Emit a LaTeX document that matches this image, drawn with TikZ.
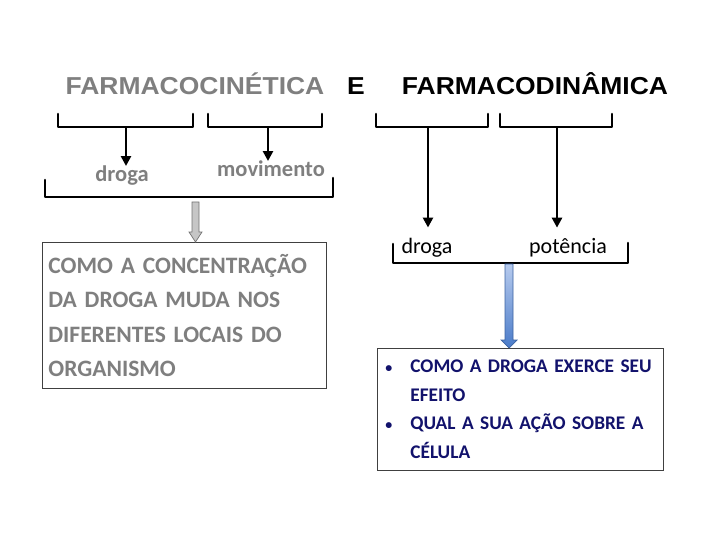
\documentclass[tikz,border=0pt]{standalone}
\usepackage{fontspec}
\setmainfont{Carlito}
\newfontfamily\headfont{Liberation Sans}
\usetikzlibrary{arrows.meta,positioning,calc}
\definecolor{tgray}{HTML}{7F7F7F}
\definecolor{tnavy}{HTML}{12126C}
\definecolor{agray}{HTML}{C6C6C6}
\definecolor{bluelt}{HTML}{B7CBEE}
\definecolor{bluedk}{HTML}{4A7BC9}
\newcommand{\wide}[1]{\scalebox{1.08}[1]{#1}}
\newcommand{\dotb}{{\fontsize{14}{14}\selectfont\textbullet}}

\begin{document}
\begin{tikzpicture}[
  x=1pt,y=-1pt,
  ttl/.style={font=\headfont\bfseries\fontsize{24.5}{28}\selectfont,inner sep=0pt,anchor=base},
  lbl/.style={font=\bfseries\fontsize{22.5}{26}\selectfont,inner sep=0pt,anchor=base,text=tgray},
  lblk/.style={font=\fontsize{22}{26}\selectfont,inner sep=0pt,anchor=base},
  brk/.style={line width=2.6pt,line join=round,line cap=round},
  a/.style={-{Triangle[length=10pt,width=10pt]},line width=2.6pt},
  box/.style={draw=black!75,line width=0.8pt,fill=white,anchor=north west,
              align=left,inner xsep=6pt,inner ysep=0pt}
]
\useasboundingbox (0,0) rectangle (720,540);

% titles
\node[ttl,text=tgray] (kin) at (195,95) {\wide{FARMACOCIN\'ETICA}};
\node[ttl] (conj) at (356,95) {\wide{E}};
\node[ttl] (din) at (535,95) {\wide{FARMACODIN\^AMICA}};

% brackets under the titles
\draw[brk] (58,114) -- (58,127) -- (193,127) -- (193,114);
\coordinate (kinA) at (126,127);
\draw[brk] (208,114) -- (208,127) -- (322,127) -- (322,114);
\coordinate (kinB) at (268,127);
\draw[brk] (376,114) -- (376,127) -- (488,127) -- (488,114);
\coordinate (dinA) at (428,127);
\draw[brk] (500,114) -- (500,127) -- (612,127) -- (612,114);
\coordinate (dinB) at (557,127);

% labels
\node[lbl] (drogaK) at (122,182) {droga};
\node[lbl] (movK) at (271,177) {movimento};
\node[lblk] (drogaD) at (427,253) {droga};
\node[lblk] (potD) at (568,253) {pot\^encia};

\draw[a] (kinA) -- (kinA |- drogaK.north);
\draw[a] (kinB) -- (kinB |- movK.north);
\draw[a,shorten >=10pt] (dinA) -- (dinA |- drogaD.north);
\draw[a,shorten >=10pt] (dinB) -- (dinB |- potD.north);

% lower brackets
\draw[brk] (45,180) -- (45,197) -- (333,197) -- (333,178);
\coordinate (kinC) at (195.5,197);
\draw[brk] (393,244) -- (393,263) -- (628,263) -- (628,243);
\coordinate (dinC) at (509,263);

% boxes
\node[box,text=tgray,font=\bfseries\fontsize{23.5}{34.3}\selectfont,
      text width=272pt,minimum height=146pt] (kinbox) at (42,242)
  {COMO A CONCENTRA\c{C}\~AO\\DA DROGA MUDA NOS\\DIFERENTES LOCAIS DO\\ORGANISMO};
\node[box,text=tnavy,font=\bfseries\fontsize{19.3}{28.6}\selectfont,
      inner xsep=8pt,text width=270pt,minimum height=122pt] (dinbox) at (377,348)
  {\makebox[25pt][l]{\dotb}COMO A DROGA EXERCE SEU\\
   \hspace*{25pt}EFEITO\\
   \makebox[25pt][l]{\dotb}QUAL A SUA A\c{C}\~AO SOBRE A\\
   \hspace*{25pt}C\'ELULA};

% block arrows
\draw[draw=black!55,fill=agray,line width=0.7pt]
  ($(kinC)+(-3.5,5)$) -- ($(kinC)+(3.5,5)$) -- ($(kinC)+(3.5,35)$)
  -- ($(kinC)+(6.5,35)$) -- (kinC |- kinbox.north) -- ($(kinC)+(-6.5,35)$)
  -- ($(kinC)+(-3.5,35)$) -- cycle;
\draw[draw=bluedk!80!black,top color=bluelt,bottom color=bluedk,line width=0.7pt]
  ($(dinC)+(-4,1)$) -- ($(dinC)+(4,1)$) -- ($(dinC)+(4,77)$)
  -- ($(dinC)+(8,77)$) -- (dinC |- dinbox.north) -- ($(dinC)+(-8,77)$)
  -- ($(dinC)+(-4,77)$) -- cycle;
\end{tikzpicture}
\end{document}
